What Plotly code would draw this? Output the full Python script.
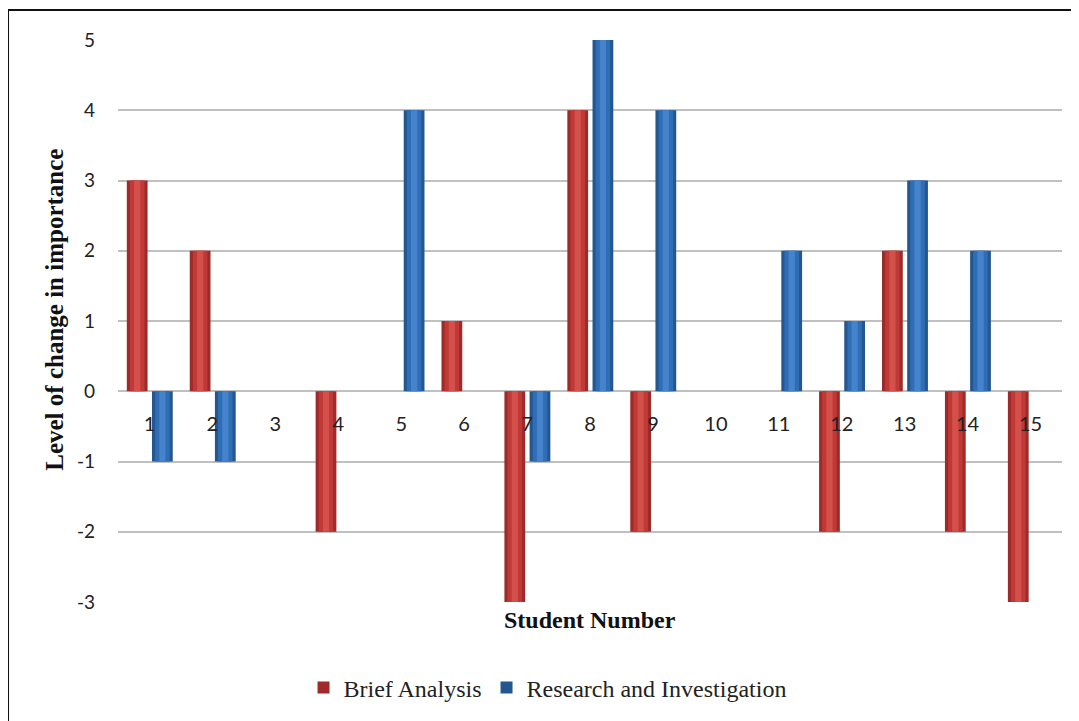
import plotly.graph_objects as go

students = [str(i) for i in range(1, 16)]
brief_analysis = [3, 2, 0, -2, 0, 1, -3, 4, -2, 0, 0, -2, 2, -2, -3]
research_investigation = [-1, -1, 0, 0, 4, 0, -1, 5, 4, 0, 2, 1, 3, 2, 0]
y_ticks = [-3, -2, -1, 0, 1, 2, 3, 4, 5]
y_tick_text = ["-3", "-2", "-1", "0", "1", "2", "3", "4", "5"]

series = [
    ("Brief Analysis", brief_analysis, -0.36, ["#9E2B2A", "#BF3936", "#D4504B"]),
    ("Research and Investigation", research_investigation, 0.04, ["#24578F", "#2F6DB5", "#4583CC"]),
]

W = 0.33
fig = go.Figure()
for name, vals, off, cols in series:
    layers = [(W, cols[0], True), (W * 0.7, cols[1], False), (W * 0.3, cols[2], False)]
    for w, c, show in layers:
        fig.add_trace(go.Bar(
            x=students, y=vals, name=name, width=w,
            offset=off + (W - w) / 2,
            marker=dict(color=c, line=dict(width=0)),
            showlegend=show, legendgroup=name,
        ))

fig.update_layout(
    width=1079, height=721,
    barmode="overlay",
    paper_bgcolor="white", plot_bgcolor="white",
    margin=dict(l=110, r=25, t=32, b=127, autoexpand=False),
    showlegend=True,
    legend=dict(orientation="h", x=0.455, xanchor="center", y=-0.153, yanchor="middle",
                font=dict(family="Liberation Serif", size=24, color="#222"),
                itemwidth=30, tracegroupgap=0),
    font=dict(family="Lato", size=19, color="#222"),
)
fig.update_yaxes(range=[-3, 5], tickvals=y_ticks, ticktext=y_tick_text,
                 showgrid=True, gridcolor="#C0C0C0", gridwidth=1.5,
                 zeroline=True, zerolinecolor="#C0C0C0", zerolinewidth=1.5,
                 ticklabelstandoff=22, tickfont=dict(family="Lato", size=19, color="#222"),
                 showline=False, fixedrange=True)
fig.update_xaxes(anchor="free", position=0.375, showgrid=False, zeroline=False, showline=False,
                 ticks="", ticklabelstandoff=19, tickfont=dict(family="Lato", size=20, color="#222"))

fig.add_annotation(text="<b>Student Number</b>", xref="paper", yref="paper", x=0.5, y=0,
                   yshift=-33, showarrow=False,
                   font=dict(family="Liberation Serif", size=24, color="#111"))
fig.add_annotation(text="<b>Level of change in importance</b>", xref="paper", yref="paper", x=0,
                   y=0.52, xanchor="center", yanchor="middle", xshift=-63, textangle=-90,
                   showarrow=False,
                   font=dict(family="Liberation Serif", size=25, color="#111"))
fig.add_shape(type="rect", xref="paper", yref="paper", x0=-0.1165, y0=-0.3, x1=1.1, y1=1.0534,
              line=dict(color="#111", width=2), fillcolor="rgba(0,0,0,0)", layer="above")

fig.write_html("out.html")
